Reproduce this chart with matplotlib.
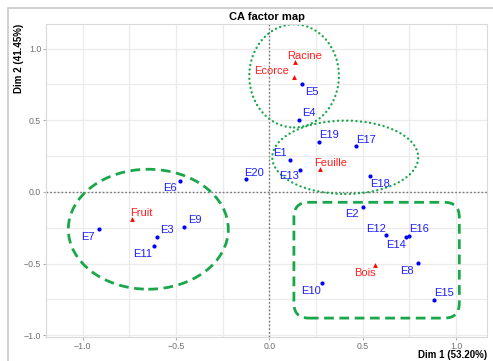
import numpy as np
import matplotlib.pyplot as plt
from matplotlib.patches import Ellipse, FancyBboxPatch, Rectangle

plt.rcParams["font.family"] = ["Liberation Sans", "DejaVu Sans"]

# Row points (samples)
row_names = ["E1", "E2", "E3", "E4", "E5", "E6", "E7", "E8", "E9", "E10",
             "E11", "E12", "E13", "E14", "E15", "E16", "E17", "E18", "E19", "E20"]
row_x = [0.110, 0.503, -0.604, 0.158, 0.174, -0.481, -0.912, 0.795, -0.460, 0.281,
         -0.620, 0.624, 0.163, 0.731, 0.879, 0.749, 0.465, 0.537, 0.267, -0.128]
row_y = [0.221, -0.105, -0.314, 0.500, 0.750, 0.074, -0.256, -0.495, -0.244, -0.633,
         -0.379, -0.298, 0.151, -0.314, -0.751, -0.307, 0.323, 0.114, 0.351, 0.091]
# label offsets (pixels, ggrepel-like placement)
row_dx = [-10, -11, 10, 10, 10, -10, -11, -11, 11, -11, -11, -10, -11, -10, 10, 10, 10, 10, 10, 8]
row_dy = [-7, 7, -7, -7, 8, 7, 8, 8, -7, 8, 8, -6, 6, 8, -7, -7, -6, 8, -7, -6]

# Column points (plant parts)
col_names = ["Racine", "Ecorce", "Feuille", "Fruit", "Bois"]
col_x = [0.138, 0.130, 0.272, -0.738, 0.565]
col_y = [0.905, 0.800, 0.160, -0.186, -0.509]
col_dx = [9, -22, 10, 10, -10]
col_dy = [-6, -6, -6, -6, 8]

fig = plt.figure(figsize=(4.93, 3.61), dpi=100)
ax = fig.add_axes([46 / 493, 1 - 337.3 / 361, (487.3 - 46) / 493, (337.3 - 24.3) / 361])

ax.set_xlim(-1.197, 1.167)
ax.set_ylim(-1.014, 1.170)

# grid like ggplot minimal
ax.set_xticks([-1.0, -0.5, 0.0, 0.5, 1.0])
ax.set_yticks([-1.0, -0.5, 0.0, 0.5, 1.0])
ax.set_xticks([-0.75, -0.25, 0.25, 0.75], minor=True)
ax.set_yticks([-0.75, -0.25, 0.25, 0.75], minor=True)
ax.grid(True, which="both", color="#ebebeb", linewidth=0.9, zorder=0)
ax.set_axisbelow(True)
ax.tick_params(which="minor", length=0)
ax.tick_params(which="major", length=2.5, color="#b0b0b0", labelsize=6.3,
               labelcolor="#707070", pad=1)
for s in ax.spines.values():
    s.set_color("#d9d9d9")
    s.set_linewidth(0.8)

ax.axhline(0, color="#777777", linestyle=(0, (1.2, 1.5)), linewidth=1.0, zorder=1)
ax.axvline(0, color="#777777", linestyle=(0, (1.2, 1.5)), linewidth=1.0, zorder=1)

green = "#1aa64a"
# groups
ax.add_patch(Ellipse((-0.649, -0.26), 0.857, 0.837, fill=False, edgecolor=green,
                     linewidth=2.0, linestyle=(0, (3.5, 2)), zorder=2))
for c, w, h in [((0.132, 0.81), 0.48, 0.72), ((0.406, 0.242), 0.782, 0.512)]:
    e = Ellipse(c, w, h, fill=False, edgecolor=green, linewidth=1.7,
                linestyle=(0, (0.05, 1.9)), zorder=2)
    e.set_capstyle("round")
    ax.add_patch(e)
ax.add_patch(FancyBboxPatch((0.131, -0.88), 1.017 - 0.131, 0.808,
                            boxstyle="round,pad=0,rounding_size=0.08",
                            mutation_aspect=186.7 / 143.3, fill=False,
                            edgecolor=green, linewidth=2.0,
                            linestyle=(0, (3.5, 2)), zorder=2))

ax.scatter(row_x, row_y, s=9, color="#0000ff", zorder=3, linewidths=0)
ax.scatter(col_x, col_y, s=12, color="#ff0000", marker="^", zorder=3, linewidths=0)

k = 0.72  # pixels -> points at 100 dpi
for n, x, y, dx, dy in zip(row_names, row_x, row_y, row_dx, row_dy):
    ax.annotate(n, (x, y), xytext=(dx * k, -dy * k), textcoords="offset points",
                ha="center", va="center", color="#1f1fff", fontsize=8, zorder=4)
for n, x, y, dx, dy in zip(col_names, col_x, col_y, col_dx, col_dy):
    ax.annotate(n, (x, y), xytext=(dx * k, -dy * k), textcoords="offset points",
                ha="center", va="center", color="#ff2020", fontsize=8, zorder=4)

ax.set_title("CA factor map", fontsize=8, fontweight="bold", pad=3)
fig.text(486.7 / 493, 1 - 355.5 / 361, "Dim 1 (53.20%)", ha="right", va="center",
         fontsize=7, fontweight="bold")
fig.text(19 / 493, 1 - 58 / 361, "Dim 2 (41.45%)", ha="center", va="center",
         rotation=90, fontsize=7, fontweight="bold")

# outer screenshot frame
fig.patches.append(Rectangle((8 / 493, -0.02), 1.1, 1 - 8 / 361 + 0.02,
                             transform=fig.transFigure, fill=False,
                             edgecolor="#c8c8c8", linewidth=1.2))

fig.savefig("out.png", dpi=100)
